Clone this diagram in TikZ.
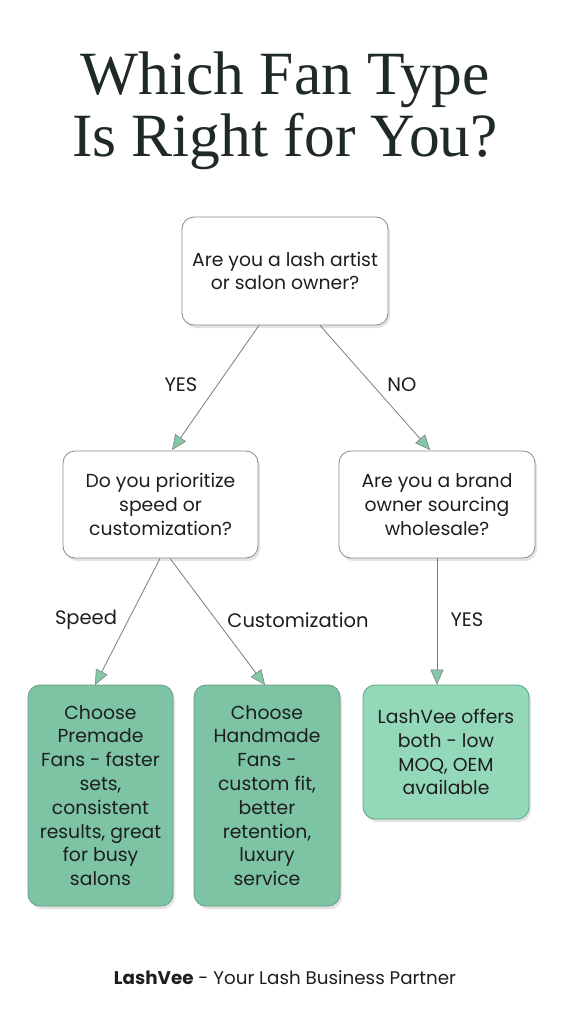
\documentclass[tikz,border=0pt]{standalone}
\usepackage{fontspec}
\setmainfont{Poppins}
\newfontfamily\titlefont{Liberation Serif}
\usetikzlibrary{arrows.meta,shadows}
\definecolor{ink}{HTML}{1F2A27}
\definecolor{txt}{HTML}{1E1E1E}
\definecolor{edge}{HTML}{8A8A8A}
\definecolor{leaf}{HTML}{7CC4A3}
\definecolor{leaflight}{HTML}{93D9B9}
\definecolor{tipgreen}{HTML}{86C7A8}

\begin{document}
\begin{tikzpicture}[x=1pt,y=-1pt,font=\fontsize{18.8}{23.8}\selectfont,text=txt,
  box/.style={draw=edge,line width=0.8pt,rounded corners=12pt,align=center,inner sep=0pt,
    drop shadow={shadow xshift=2pt,shadow yshift=-3pt,opacity=0.22}},
  question/.style={box,fill=white},
  answer/.style={box,draw=leaf!80!black,fill=leaf},
  arr/.style={draw=edge!90!black,line width=0.8pt,
    -{Triangle[width=13pt,length=15pt,fill=tipgreen,line width=0.5pt]}},
  lbl/.style={font=\fontsize{19.5}{22}\selectfont}]
\useasboundingbox[fill=white] (0,0) rectangle (571,1024);

% title
\node[anchor=base,text=ink,font=\titlefont\fontsize{61.5}{62}\selectfont] (t1) at (285,95) {Which Fan Type};
\node[anchor=base,text=ink,font=\titlefont\fontsize{61.5}{62}\selectfont] (t2) at (285,157) {Is Right for You?};

% questions
\node[question,minimum width=206pt,minimum height=108pt] (q1) at (285,271)
  {Are you a lash artist\\or salon owner?};
\node[question,minimum width=195pt,minimum height=107pt] (q2) at (160.5,504.5)
  {Do you prioritize\\speed or\\customization?};
\node[question,minimum width=196pt,minimum height=107pt] (q3) at (437,504.5)
  {Are you a brand\\owner sourcing\\wholesale?};

% answers
\node[answer,minimum width=145pt,minimum height=221pt] (a1) at (100.5,795.5)
  {Choose\\Premade\\Fans - faster\\sets,\\consistent\\results, great\\for busy\\salons};
\node[answer,minimum width=146pt,minimum height=221pt] (a2) at (267,795.5)
  {Choose\\Handmade\\Fans -\\custom fit,\\better\\retention,\\luxury\\service};
\node[answer,fill=leaflight,minimum width=166pt,minimum height=134pt] (a3) at (446,752)
  {LashVee offers\\both - low\\MOQ, OEM\\available};

% connectors
\draw[arr] (q1.south -| 259,0) -- (172,450);
\draw[arr] (q1.south -| 320,0) -- (430,450);
\draw[arr] (q2.south -| 160,0) -- (95,685);
\draw[arr] (q2.south -| 170,0) -- (265,685);
\draw[arr] (q3.south) -- (q3.south |- a3.north);

\node[lbl] (l1) at (181,385) {YES};
\node[lbl] (l2) at (402,385) {NO};
\node[lbl] (l3) at (86,620) {Speed};
\node[lbl] (l4) at (298,620) {Customization};
\node[lbl] (l5) at (467,620) {YES};

% footer
\node[anchor=base,font=\fontsize{18.3}{20}\selectfont] (ft) at (285,984)
  {\textbf{LashVee} - Your Lash Business Partner};
\end{tikzpicture}
\end{document}
